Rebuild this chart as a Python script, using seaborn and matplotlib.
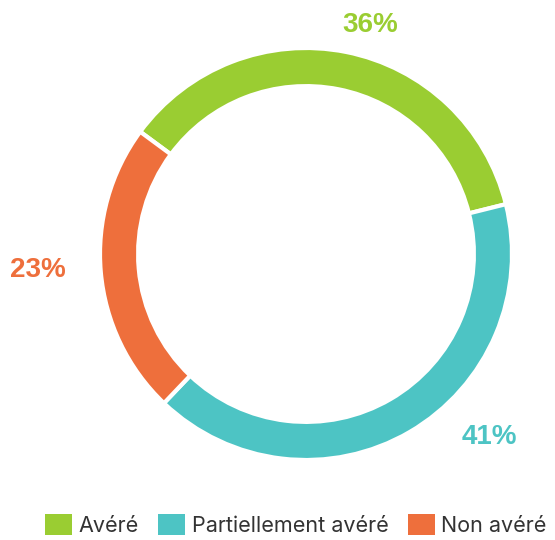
import matplotlib as mpl
mpl.use('Agg')
import matplotlib.pyplot as plt
import seaborn as sns
from matplotlib.patches import Patch

sns.set_theme(style='white')
plt.rcParams['font.family'] = ['Liberation Sans', 'DejaVu Sans']

# data
categories = ['Avéré', 'Partiellement avéré', 'Non avéré']
values = [36, 41, 23]
colors = ['#9ACD32', '#4DC4C4', '#EE6F3C']
# label positions (data units, ring radius = 1)
label_pos = [(0.31, 1.11), (0.89, -0.89), (-1.30, -0.08)]

fig = plt.figure(figsize=(5.55, 5.40), dpi=100)
ax = fig.add_axes([100 / 555, 80 / 540, 412 / 555, 412 / 540])
ax.pie(values, colors=colors, startangle=143.6, counterclock=False,
       radius=1.0, wedgeprops=dict(width=0.185, edgecolor='white', linewidth=3))
ax.set_xlim(-1, 1)
ax.set_ylim(-1, 1)
ax.set_aspect('equal')
ax.axis('off')

for v, c, (x, y) in zip(values, colors, label_pos):
    ax.text(x, y, f'{v}%', color=c, fontsize=20, fontweight='bold',
            ha='center', va='center')

handles = [Patch(facecolor=c, edgecolor='none') for c in colors]
leg = fig.legend(handles, categories, loc='lower right',
                 bbox_to_anchor=(1.0, -0.008), ncol=3, frameon=False,
                 handlelength=1.25, handleheight=1.15, handletextpad=0.3,
                 columnspacing=0.9, borderaxespad=0,
                 prop={'family': 'Inter', 'size': 15.5})
for t in leg.get_texts():
    t.set_color('#333333')

fig.savefig('out.png', dpi=100)
